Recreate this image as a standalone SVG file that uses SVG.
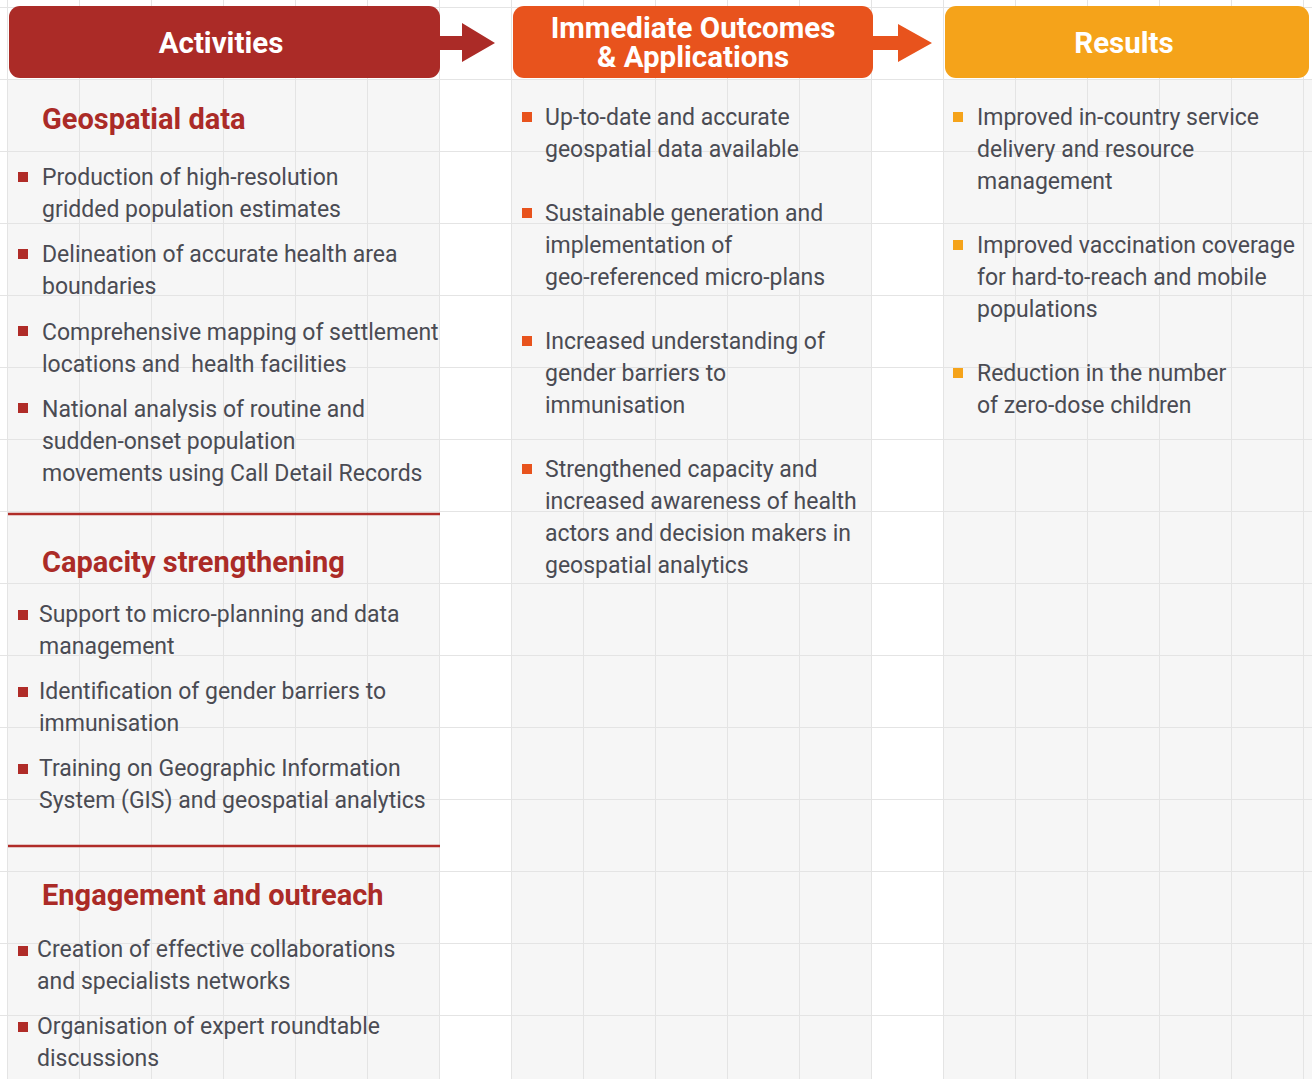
<svg xmlns="http://www.w3.org/2000/svg" width="1312" height="1079" viewBox="0 0 1312 1079">
  <defs>
    <pattern id="grid" x="7" y="7" width="72" height="72" patternUnits="userSpaceOnUse">
      <path d="M0 0H72M0 0V72" fill="none" stroke="#e4e4e4" stroke-width="2"/>
    </pattern>
  </defs>
  <style>
    .panel { fill: #f6f6f6; }
    .head { font-family: Roboto, "Open Sans", sans-serif; font-weight: 700; font-size: 29.5px; fill: #ffffff; text-anchor: middle; }
    .sec { font-family: Roboto, "Open Sans", sans-serif; font-weight: 700; font-size: 29px; fill: #ab2b27; }
    .txt { font-family: Roboto, "Open Sans", sans-serif; font-size: 23px; fill: #4a4b53; }
    .b1 { fill: #b02c28; }
    .b2 { fill: #e8531d; }
    .b3 { fill: #f5a31a; }
    .rule { stroke: #b02c28; stroke-width: 2.5; }
  </style>

  <!-- background -->
  <rect width="1312" height="1079" fill="#ffffff"/>
  <rect class="panel" x="8" y="79" width="432" height="1000"/>
  <rect class="panel" x="511" y="79" width="361" height="1000"/>
  <rect class="panel" x="943" y="79" width="369" height="1000"/>
  <rect width="1312" height="1079" fill="url(#grid)"/>

  <!-- column headers -->
  <g id="activities">
    <rect x="9" y="6" width="431" height="72" rx="11" fill="#ab2b27"/>
    <text class="head" x="221" y="53">Activities</text>
  </g>
  <g id="outcomes">
    <rect x="513" y="6" width="360" height="72" rx="11" fill="#e8531d"/>
    <text class="head"><tspan x="693" y="38">Immediate Outcomes</tspan><tspan x="693" y="67">&amp; Applications</tspan></text>
  </g>
  <g id="results">
    <rect x="945" y="6" width="364" height="72" rx="11" fill="#f5a31a"/>
    <text class="head" x="1124" y="53">Results</text>
  </g>

  <!-- block arrows between headers -->
  <g id="connectors">
    <polygon points="440,36 462,36 462,23 495,43 462,62 462,50 440,50" fill="#ab2b27"/>
    <polygon points="873,36 898,36 898,24 932,43 898,62 898,50 873,50" fill="#e8531d"/>
  </g>

  <!-- Activities: geospatial data -->
  <g id="geospatial-data">
    <text class="sec" x="42" y="129">Geospatial data</text>
    <rect class="b1" x="18" y="172" width="10" height="10"/>
    <text class="txt" x="42" y="185">Production of high-resolution</text>
    <text class="txt" x="42" y="217">gridded population estimates</text>
    <rect class="b1" x="18" y="249" width="10" height="10"/>
    <text class="txt" x="42" y="262">Delineation of accurate health area</text>
    <text class="txt" x="42" y="294">boundaries</text>
    <rect class="b1" x="18" y="326" width="10" height="10"/>
    <text class="txt" x="42" y="340">Comprehensive mapping of settlement</text>
    <text class="txt" x="42" y="372" xml:space="preserve">locations and  health facilities</text>
    <rect class="b1" x="18" y="403" width="10" height="10"/>
    <text class="txt" x="42" y="417">National analysis of routine and</text>
    <text class="txt" x="42" y="449">sudden-onset population</text>
    <text class="txt" x="42" y="481">movements using Call Detail Records</text>
  </g>
  <line class="rule" x1="8" y1="514" x2="440" y2="514"/>

  <!-- Activities: capacity strengthening -->
  <g id="capacity-strengthening">
    <text class="sec" x="42" y="572">Capacity strengthening</text>
    <rect class="b1" x="18" y="610" width="10" height="10"/>
    <text class="txt" x="39" y="622">Support to micro-planning and data</text>
    <text class="txt" x="39" y="654">management</text>
    <rect class="b1" x="18" y="687" width="10" height="10"/>
    <text class="txt" x="39" y="699">Identification of gender barriers to</text>
    <text class="txt" x="39" y="731">immunisation</text>
    <rect class="b1" x="18" y="764" width="10" height="10"/>
    <text class="txt" x="39" y="776">Training on Geographic Information</text>
    <text class="txt" x="39" y="808">System (GIS) and geospatial analytics</text>
  </g>
  <line class="rule" x1="8" y1="846" x2="440" y2="846"/>

  <!-- Activities: engagement and outreach -->
  <g id="engagement-outreach">
    <text class="sec" x="42" y="905">Engagement and outreach</text>
    <rect class="b1" x="18" y="946" width="10" height="10"/>
    <text class="txt" x="37" y="957">Creation of effective collaborations</text>
    <text class="txt" x="37" y="989">and specialists networks</text>
    <rect class="b1" x="18" y="1022" width="10" height="10"/>
    <text class="txt" x="37" y="1034">Organisation of expert roundtable</text>
    <text class="txt" x="37" y="1066">discussions</text>
  </g>

  <!-- Immediate outcomes -->
  <g id="outcome-items">
    <rect class="b2" x="522" y="112" width="10" height="10"/>
    <text class="txt" x="545" y="125">Up-to-date and accurate</text>
    <text class="txt" x="545" y="157">geospatial data available</text>
    <rect class="b2" x="522" y="208" width="10" height="10"/>
    <text class="txt" x="545" y="221">Sustainable generation and</text>
    <text class="txt" x="545" y="253">implementation of</text>
    <text class="txt" x="545" y="285">geo-referenced micro-plans</text>
    <rect class="b2" x="522" y="336" width="10" height="10"/>
    <text class="txt" x="545" y="349">Increased understanding of</text>
    <text class="txt" x="545" y="381">gender barriers to</text>
    <text class="txt" x="545" y="413">immunisation</text>
    <rect class="b2" x="522" y="464" width="10" height="10"/>
    <text class="txt" x="545" y="477">Strengthened capacity and</text>
    <text class="txt" x="545" y="509">increased awareness of health</text>
    <text class="txt" x="545" y="541">actors and decision makers in</text>
    <text class="txt" x="545" y="573">geospatial analytics</text>
  </g>

  <!-- Results -->
  <g id="result-items">
    <rect class="b3" x="953" y="112" width="10" height="10"/>
    <text class="txt" x="977" y="125">Improved in-country service</text>
    <text class="txt" x="977" y="157">delivery and resource</text>
    <text class="txt" x="977" y="189">management</text>
    <rect class="b3" x="953" y="240" width="10" height="10"/>
    <text class="txt" x="977" y="253">Improved vaccination coverage</text>
    <text class="txt" x="977" y="285">for hard-to-reach and mobile</text>
    <text class="txt" x="977" y="317">populations</text>
    <rect class="b3" x="953" y="368" width="10" height="10"/>
    <text class="txt" x="977" y="381">Reduction in the number</text>
    <text class="txt" x="977" y="413">of zero-dose children</text>
  </g>
</svg>
